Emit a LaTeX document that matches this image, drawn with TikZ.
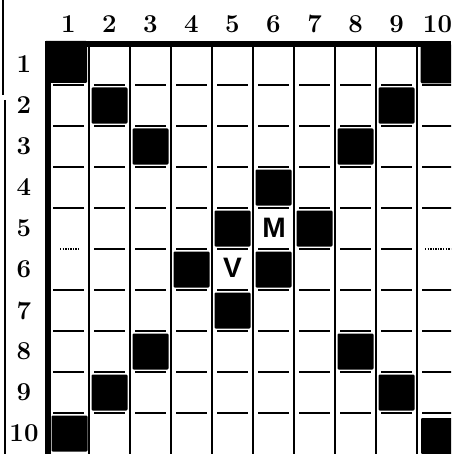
\documentclass[tikz,border=0pt]{standalone}
\usepackage{fontspec}
\newfontfamily\pecafont{Liberation Sans}

\begin{document}
\begin{tikzpicture}[
    x=0.03cm, y=-0.03cm,
    rotulo/.style={
        inner sep=0pt,
        font=\fontsize{22}{24}\selectfont\bfseries
    },
    casa/.style={
        rectangle,
        rounded corners=1pt,
        draw=none,
        fill=black,
        inner sep=0pt,
        minimum size=1.08cm
    },
    canto/.style={casa, minimum size=1.26cm},
    peca/.style={
        inner sep=0pt,
        font=\fontsize{24}{26}\selectfont\pecafont\bfseries
    },
    borda/.style={line width=5pt},
    coluna/.style={line width=2.1pt},
    linha/.style={line width=1.5pt},
    falha/.style={line width=1.2pt, densely dotted}
]
\useasboundingbox (0,0) rectangle (451,454);
\clip (0,0) rectangle (451,454);

% MARGEM ESQUERDA
\draw[line width=1pt] (3,0) -- (3,95);
\draw[line width=1pt] (5,100) -- (5,454);

% ROTULOS DAS COLUNAS E LINHAS
\foreach \c in {1,...,10}
    \node[rotulo] (col\c) at ({27.5+41*\c},24) {\c};
\foreach \r in {1,...,10}
    \node[rotulo] (lin\r) at (24,{23.5+41*\r}) {\r};

% --- GRADE ---
\foreach \k in {1,...,9}
    \draw[coluna] ({48+41*\k},44) -- ({48+41*\k},454);
\foreach \k in {1,2,3,4,6,7,8,9}
    \foreach \c in {1,...,10}
        \draw[linha] ({48+41*(\c-1)+5},{44+41*\k}) -- ({48+41*\c-5},{44+41*\k});
\foreach \c in {2,...,9}
    \draw[linha] ({48+41*(\c-1)+5},249) -- ({48+41*\c-5},249);
\draw[falha] (60,249) -- (80,249);
\draw[falha] (425,249) -- (451,249);

% BORDA
\draw[borda] (45,44) -- (451,44);
\draw[borda] (48,41) -- (48,454);

% --- CASAS PRETAS ---
\node[canto] (casa1-1) at (66,62) {};
\node[casa, minimum size=1.16cm] (casa1-10) at (440,64) {};
\node[casa] (casa10-1) at (69.5,433.5) {};
\node[casa] (casa10-10) at (439,436) {};
\foreach \r/\c in {2/2,2/9,3/3,3/8,4/6,5/5,5/7,6/4,6/6,7/5,8/3,8/8,9/2,9/9}
    \node[casa] (casa\r-\c) at ({27.5+41*\c},{23.5+41*\r}) {};

% PECAS
\node[peca] (pecaM) at (274,228) {M};
\node[peca] (pecaV) at (232.5,268) {V};

\end{tikzpicture}
\end{document}
